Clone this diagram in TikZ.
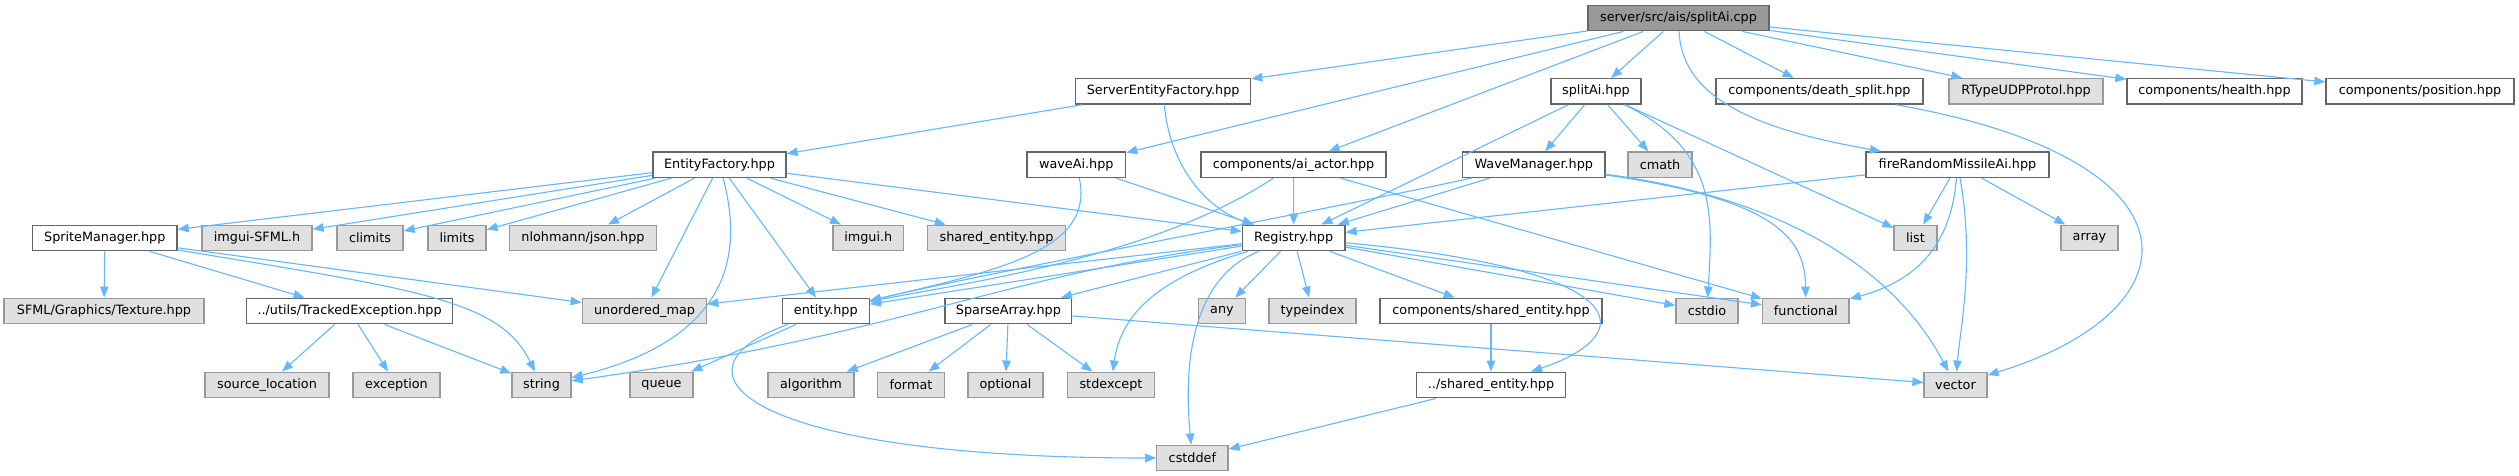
\documentclass[tikz,border=0pt]{standalone}
\usepackage{fontspec}
\setmainfont{DejaVu Sans}
\usetikzlibrary{arrows.meta}
\definecolor{edgeblue}{HTML}{63B8FF}
\definecolor{bordA}{HTML}{666666}
\definecolor{bordB}{HTML}{999999}
\definecolor{fillB}{HTML}{E0E0E0}
\definecolor{rootfill}{HTML}{999999}
\newcommand{\nodefont}{\fontsize{12.8pt}{15pt}\selectfont}
\tikzset{
  nd/.style={draw=bordA, fill=white, line width=1.3pt, minimum height=25.6pt, inner sep=0pt, font=\nodefont, text=black},
  sysnd/.style={nd, draw=bordB, fill=fillB},
  rootnd/.style={nd, fill=rootfill},
  dep/.style={draw=edgeblue, line width=1.1pt, -{Triangle[length=11pt,width=8.5pt]}},
}
\begin{document}
\begin{tikzpicture}[x=1pt,y=-1pt]
\path[use as bounding box, fill=white] (0,0) rectangle (2519,476);
% row 1
\node[rootnd, minimum width=181pt] (root) at (1678.5,18) {server/src/ais/splitAi.cpp};
% row 2
\node[nd, minimum width=175pt] (sef) at (1163.2,91.3) {ServerEntityFactory.hpp};
\node[nd, minimum width=90pt] (splithpp) at (1596,91.3) {splitAi.hpp};
\node[nd, minimum width=207pt] (death) at (1819.5,91.3) {components/death\_split.hpp};
\node[sysnd, minimum width=154pt] (rtype) at (2026,91.3) {RTypeUDPProtol.hpp};
\node[nd, minimum width=175pt] (health) at (2214.5,91.3) {components/health.hpp};
\node[nd, minimum width=188pt] (position) at (2420,91.3) {components/position.hpp};
% row 3
\node[nd, minimum width=133pt] (ef) at (719.5,164.7) {EntityFactory.hpp};
\node[nd, minimum width=98.7pt] (waveai) at (1076.3,164.7) {waveAi.hpp};
\node[nd, minimum width=185pt] (aiactor) at (1293.5,164.7) {components/ai\_actor.hpp};
\node[nd, minimum width=142.5pt] (wm) at (1533.8,164.7) {WaveManager.hpp};
\node[sysnd, minimum width=64pt] (cmath) at (1660,164.7) {cmath};
\node[nd, minimum width=183pt] (frm) at (1957.5,164.7) {fireRandomMissileAi.hpp};
% row 4
\node[nd, minimum width=144.5pt] (sprite) at (104.8,238) {SpriteManager.hpp};
\node[sysnd, minimum width=110pt] (imguisfml) at (257,238) {imgui-SFML.h};
\node[sysnd, minimum width=66pt] (climits) at (370,238) {climits};
\node[sysnd, minimum width=58pt] (limits) at (457,238) {limits};
\node[sysnd, minimum width=147pt] (json) at (583,238) {nlohmann/json.hpp};
\node[sysnd, minimum width=70.7pt] (imguih) at (868.3,238) {imgui.h};
\node[sysnd, minimum width=137.6pt] (sharedent) at (996.5,238) {shared\_entity.hpp};
\node[nd, minimum width=102.7pt] (registry) at (1293.7,238) {Registry.hpp};
\node[sysnd, minimum width=43pt] (list) at (1915.5,238) {list};
\node[sysnd, minimum width=57pt] (array) at (2089.5,238) {array};
% row 5
\node[sysnd, minimum width=200pt] (texture) at (104,311) {SFML/Graphics/Texture.hpp};
\node[nd, minimum width=206pt] (tracked) at (349.6,311) {../utils/TrackedException.hpp};
\node[sysnd, minimum width=124.4pt] (umap) at (644.5,311) {unordered\_map};
\node[nd, minimum width=87pt] (entity) at (825.8,311) {entity.hpp};
\node[nd, minimum width=126.8pt] (sparse) at (1008.4,311) {SparseArray.hpp};
\node[sysnd, minimum width=47.3pt] (any) at (1222,311) {any};
\node[sysnd, minimum width=87pt] (typeindex) at (1312.5,311) {typeindex};
\node[nd, minimum width=222pt] (cshared) at (1491,311) {components/shared\_entity.hpp};
\node[sysnd, minimum width=62pt] (cstdio) at (1707,311) {cstdio};
\node[sysnd, minimum width=86.5pt] (functional) at (1805.8,311) {functional};
% row 6
\node[sysnd, minimum width=124pt] (srcloc) at (267,385) {source\_location};
\node[sysnd, minimum width=87pt] (exception) at (396.5,385) {exception};
\node[sysnd, minimum width=59pt] (string) at (541.5,385) {string};
\node[sysnd, minimum width=63pt] (queue) at (661.5,385) {queue};
\node[sysnd, minimum width=86pt] (algorithm) at (811,385) {algorithm};
\node[sysnd, minimum width=67.5pt] (format) at (911,385) {format};
\node[sysnd, minimum width=75pt] (optional) at (1005.5,385) {optional};
\node[sysnd, minimum width=87.5pt] (stdexcept) at (1111,385) {stdexcept};
\node[nd, minimum width=149pt] (sharedh) at (1491,385) {../shared\_entity.hpp};
\node[sysnd, minimum width=63pt] (vector) at (1955.5,385) {vector};
% row 7
\node[sysnd, minimum width=71.2pt] (cstddef) at (1192.4,458) {cstddef};

% edges from root
\draw[dep] (root) -- (sef);
\draw[dep] (root) -- (waveai);
\draw[dep] (root) -- (aiactor);
\draw[dep] (root) -- (splithpp);
\draw[dep] (root) .. controls (1682,100) and (1760,130) .. (frm);
\draw[dep] (root) -- (death);
\draw[dep] (root) -- (rtype);
\draw[dep] (root) -- (health);
\draw[dep] (root) -- (position);
% ServerEntityFactory
\draw[dep] (sef) -- (ef);
\draw[dep] (sef) .. controls (1170,170) and (1210,210) .. (registry);
% splitAi.hpp
\draw[dep] (splithpp) -- (registry);
\draw[dep] (splithpp) -- (wm);
\draw[dep] (splithpp) -- (cmath);
\draw[dep] (splithpp) -- (list);
\draw[dep] (splithpp) .. controls (1720,150) and (1712,220) .. (cstdio);
% EntityFactory
\draw[dep] (ef) -- (sprite);
\draw[dep] (ef) -- (imguisfml);
\draw[dep] (ef) -- (climits);
\draw[dep] (ef) -- (limits);
\draw[dep] (ef) -- (json);
\draw[dep] (ef) -- (umap);
\draw[dep] (ef) .. controls (745,260) and (725,340) .. (string);
\draw[dep] (ef) -- (entity);
\draw[dep] (ef) -- (imguih);
\draw[dep] (ef) -- (sharedent);
\draw[dep] (ef) -- (registry);
% waveAi
\draw[dep] (waveai) -- (registry);
\draw[dep] (waveai) .. controls (1095,250) and (1000,270) .. (entity);
% ai_actor
\draw[dep] (aiactor) -- (registry);
\draw[dep] (aiactor) .. controls (1150,260) and (950,285) .. (entity);
\draw[dep] (aiactor) -- (functional);
% WaveManager
\draw[dep] (wm) -- (registry);
\draw[dep] (wm) .. controls (1300,215) and (1000,270) .. (entity);
\draw[dep] (wm) .. controls (1780,200) and (1805,240) .. (functional);
\draw[dep] (wm) .. controls (1800,200) and (1900,280) .. (vector);
% fireRandomMissileAi
\draw[dep] (frm) -- (registry);
\draw[dep] (frm) -- (list);
\draw[dep] (frm) -- (array);
\draw[dep] (frm) .. controls (1950,260) and (1900,285) .. (functional);
\draw[dep] (frm) .. controls (1975,260) and (1960,330) .. (vector);
% death_split
\draw[dep] (death) .. controls (2210,160) and (2200,310) .. (vector);
% SpriteManager
\draw[dep] (sprite) -- (texture);
\draw[dep] (sprite) -- (tracked);
\draw[dep] (sprite) .. controls (420,290) and (500,300) .. (string);
\draw[dep] (sprite) -- (umap);
% TrackedException
\draw[dep] (tracked) -- (srcloc);
\draw[dep] (tracked) -- (exception);
\draw[dep] (tracked) -- (string);
% Registry
\draw[dep] (registry) -- (umap);
\draw[dep] (registry) -- (entity);
\draw[dep] (registry) .. controls (1000,275) and (900,335) .. (string);
\draw[dep] (registry) -- (sparse);
\draw[dep] (registry) .. controls (1150,280) and (1120,320) .. (stdexcept);
\draw[dep] (registry) .. controls (1185,280) and (1185,380) .. (cstddef);
\draw[dep] (registry) -- (any);
\draw[dep] (registry) -- (typeindex);
\draw[dep] (registry) -- (cshared);
\draw[dep] (registry) .. controls (1640,270) and (1640,335) .. (sharedh);
\draw[dep] (registry) -- (cstdio);
\draw[dep] (registry) -- (functional);
% entity
\draw[dep] (entity) -- (queue);
\draw[dep] (entity) .. controls (660,370) and (740,458) .. (cstddef);
% SparseArray
\draw[dep] (sparse) -- (algorithm);
\draw[dep] (sparse) -- (format);
\draw[dep] (sparse) -- (optional);
\draw[dep] (sparse) -- (stdexcept);
\draw[dep] (sparse) -- (vector);
% shared entity
\draw[dep] (cshared) -- (sharedh);
\draw[dep] (sharedh) -- (cstddef);
\end{tikzpicture}
\end{document}
